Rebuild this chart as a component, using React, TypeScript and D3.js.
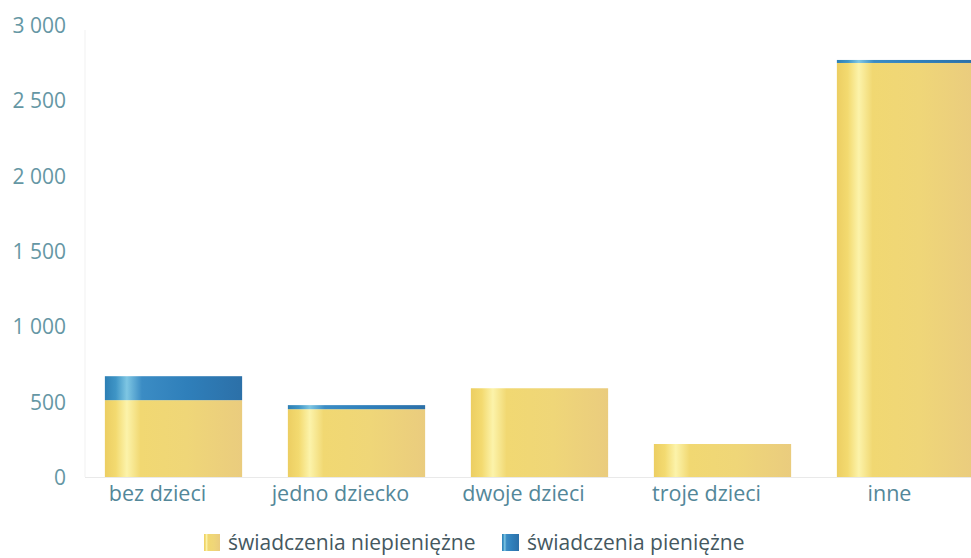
import React from "react";
import * as d3 from "d3";

const categories = ["bez dzieci", "jedno dziecko", "dwoje dzieci", "troje dzieci", "inne"];
const niepieniezne = [510, 450, 589, 219, 2748];
const pieniezne = [159, 27, 0, 0, 20];
const yTicks = [0, 500, 1000, 1500, 2000, 2500, 3000];
const seriesNames = ["świadczenia niepieniężne", "świadczenia pieniężne"];

const W = 971;
const H = 558;
const FONT = "'Open Sans', 'Noto Sans', sans-serif";

export default function App() {
  const x = d3
    .scaleBand<string>()
    .domain(categories)
    .range([82, 997])
    .paddingInner(0.25)
    .paddingOuter(0.125);
  const y = d3.scaleLinear().domain([0, 3000]).range([477, 25]);

  const rows = categories.map((c, i) => ({ cat: c, a: niepieniezne[i], b: pieniezne[i] }));
  const stack = d3.stack<any>().keys(["a", "b"]);
  const series = stack(rows);
  const fills = ["url(#gY)", "url(#gB)"];
  const fmt = (v: number) => d3.format(",")(v).replace(/,/g, " ");

  return (
    <svg
      width={W}
      height={H}
      style={{ position: "absolute", left: 0, top: 0, background: "#fff" }}
      fontFamily={FONT}
      fontWeight={400}
    >
      <defs>
        <linearGradient id="gY" x1="0" x2="1" y1="0" y2="0">
          <stop offset="0" stopColor="#ecce62" />
          <stop offset="0.08" stopColor="#f3da70" />
          <stop offset="0.16" stopColor="#fcf3aa" />
          <stop offset="0.26" stopColor="#f1d872" />
          <stop offset="0.6" stopColor="#efd678" />
          <stop offset="1" stopColor="#eacc7e" />
        </linearGradient>
        <linearGradient id="gB" x1="0" x2="1" y1="0" y2="0">
          <stop offset="0" stopColor="#2d7fb4" />
          <stop offset="0.08" stopColor="#3f95c6" />
          <stop offset="0.16" stopColor="#7ec6e3" />
          <stop offset="0.27" stopColor="#3b8cc4" />
          <stop offset="0.6" stopColor="#2f7fba" />
          <stop offset="1" stopColor="#2c70a8" />
        </linearGradient>
      </defs>

      {/* axis lines */}
      <line x1={85} x2={85} y1={30} y2={y(0)} stroke="#f1f1f1" strokeWidth={1} />
      <line x1={85} x2={W} y1={y(0) + 0.5} y2={y(0) + 0.5} stroke="#e9e9e9" strokeWidth={1} />

      {/* y tick labels */}
      {yTicks.map((t) => (
        <text
          key={t}
          x={66}
          y={y(t)}
          textAnchor="end"
          dominantBaseline="central"
          fontSize={21}
          fill="#6597a4"
        >
          {fmt(t)}
        </text>
      ))}

      {/* bars */}
      {series.map((s, si) =>
        s.map((d, i) => {
          const h = y(d[0]) - y(d[1]);
          if (h <= 0) return null;
          return (
            <rect
              key={si + "-" + i}
              x={x(categories[i])}
              y={y(d[1])}
              width={x.bandwidth()}
              height={h}
              fill={fills[si]}
            />
          );
        })
      )}

      {/* category labels */}
      {categories.map((c) => (
        <text
          key={c}
          x={(x(c) as number) + x.bandwidth() / 2 - 16}
          y={y(0) + 24}
          textAnchor="middle"
          fontSize={21.5}
          fill="#538799"
        >
          {c}
        </text>
      ))}

      {/* legend */}
      <g transform="translate(204,534)">
        <rect x={0} y={0} width={16} height={17} fill="url(#gY)" />
        <text x={24} y={8} dominantBaseline="central" fontSize={21} fill="#45585f">
          {seriesNames[0]}
        </text>
        <rect x={298} y={0} width={17} height={17} fill="url(#gB)" />
        <text x={323} y={8} dominantBaseline="central" fontSize={21} fill="#45585f">
          {seriesNames[1]}
        </text>
      </g>
    </svg>
  );
}
